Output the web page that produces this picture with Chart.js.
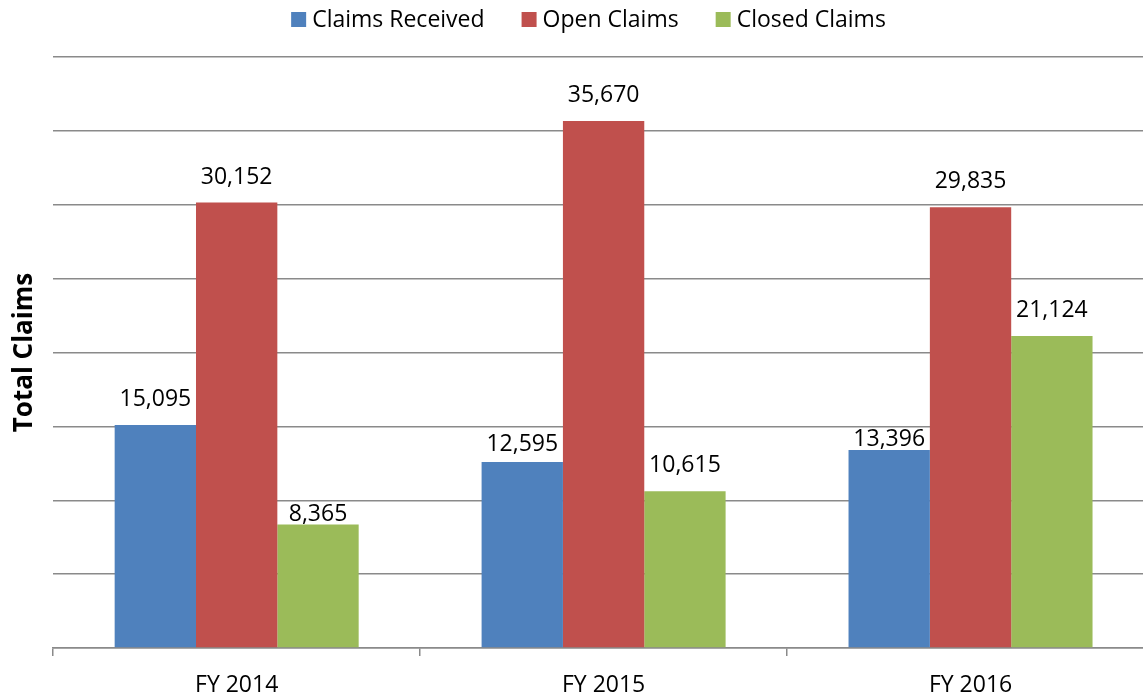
<!DOCTYPE html>
<html>
<head>
<meta charset="utf-8">
<script src="https://cdn.jsdelivr.net/npm/chart.js@4.4.1/dist/chart.umd.min.js"></script>
<style>
  html, body { margin: 0; padding: 0; overflow: hidden; background: #fff; }
  #wrap { position: relative; width: 1160px; height: 695px; }
</style>
</head>
<body>
<div id="wrap"><canvas id="c"></canvas></div>
<script>
const categories = ['FY 2014', 'FY 2015', 'FY 2016'];
const seriesNames = ['Claims Received', 'Open Claims', 'Closed Claims'];
const claimsReceived = [15095, 12595, 13396];
const openClaims = [30152, 35670, 29835];
const closedClaims = [8365, 10615, 21124];
const yTicks = [0, 5000, 10000, 15000, 20000, 25000, 30000, 35000, 40000];

const colors = ['#4F81BD', '#C0504D', '#9BBB59'];
const FONT = '"Open Sans", "Liberation Sans", sans-serif';
const GRID = '#8a8a8a';

// label gap (px between bar top and text baseline); a few labels sit closer as in the original
const defaultLabelGap = 19;
const labelGapOverride = { 0: { 1: 11, 2: 4 }, 2: { 0: 3 } };

const valueLabels = {
  id: 'valueLabels',
  afterDatasetsDraw(chart) {
    const ctx = chart.ctx;
    ctx.save();
    ctx.font = '23px ' + FONT;
    ctx.fillStyle = '#000';
    ctx.textAlign = 'center';
    ctx.textBaseline = 'alphabetic';
    chart.data.datasets.forEach((ds, di) => {
      chart.getDatasetMeta(di).data.forEach((bar, i) => {
        const o = labelGapOverride[di];
        const gap = (o && o[i] !== undefined) ? o[i] : defaultLabelGap;
        ctx.fillText(ds.data[i].toLocaleString('en-US'), bar.x, bar.y - gap);
      });
    });
    ctx.restore();
  }
};

const topLegend = {
  id: 'topLegend',
  afterDraw(chart) {
    const ctx = chart.ctx;
    ctx.save();
    ctx.font = '23px ' + FONT;
    ctx.textBaseline = 'alphabetic';
    ctx.textAlign = 'left';
    const box = 15, gapText = 6, gapItem = 37, baseline = 27, centerX = 588.5;
    const items = chart.data.datasets.map(ds => ({
      label: ds.label, color: ds.backgroundColor, w: ctx.measureText(ds.label).width
    }));
    const total = items.reduce((s, it) => s + box + gapText + it.w, 0) + gapItem * (items.length - 1);
    let x = centerX - total / 2;
    items.forEach(it => {
      ctx.fillStyle = it.color;
      ctx.fillRect(x, baseline - box, box, box);
      ctx.fillStyle = '#000';
      ctx.fillText(it.label, x + box + gapText, baseline);
      x += box + gapText + it.w + gapItem;
    });
    ctx.restore();
  }
};

const datasets = [claimsReceived, openClaims, closedClaims].map((d, i) => ({
  label: seriesNames[i],
  data: d,
  backgroundColor: colors[i],
  borderWidth: 0,
  categoryPercentage: 0.665,
  barPercentage: 1.0
}));

new Chart(document.getElementById('c'), {
  type: 'bar',
  data: { labels: categories, datasets },
  options: {
    responsive: true,
    maintainAspectRatio: false,
    animation: false,
    layout: { padding: { top: 57, right: 6, left: 0, bottom: 0 } },
    plugins: {
      legend: { display: false },
      tooltip: { enabled: false }
    },
    scales: {
      x: {
        afterFit(scale) { scale.height = 47; },
        grid: {
          offset: true,
          drawOnChartArea: false,
          drawTicks: true,
          tickLength: 8,
          color: GRID,
          lineWidth: 1.5
        },
        border: { display: true, color: GRID, width: 1.5 },
        ticks: {
          color: '#000',
          font: { family: FONT, size: 23 },
          padding: 16
        }
      },
      y: {
        min: 0,
        max: 40000,
        afterBuildTicks(scale) { scale.ticks = yTicks.map(v => ({ value: v })); },
        ticks: { display: false },
        grid: { color: GRID, lineWidth: 1.5, drawTicks: false },
        border: { display: false },
        title: {
          display: true,
          text: 'Total Claims',
          color: '#000',
          font: { family: FONT, size: 26, weight: 'bold' },
          padding: { top: 9, bottom: 13 }
        }
      }
    }
  },
  plugins: [valueLabels, topLegend]
});
</script>
</body>
</html>
